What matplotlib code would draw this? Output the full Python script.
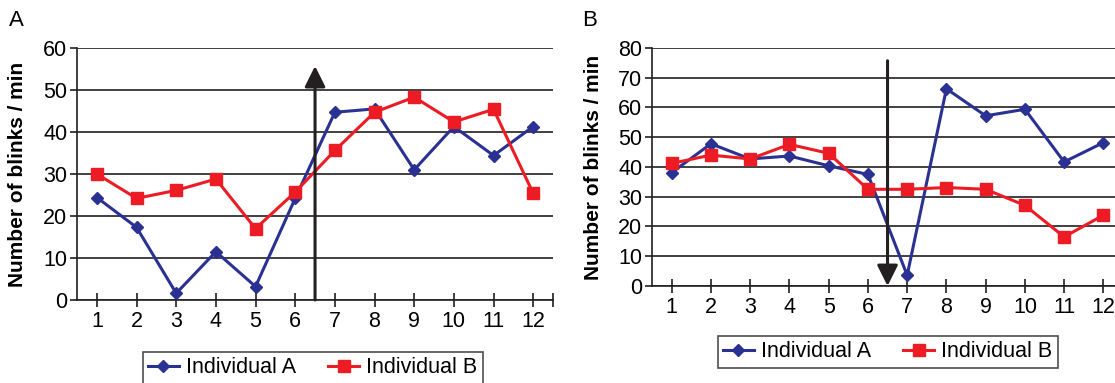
import matplotlib
matplotlib.use("Agg")
import matplotlib.pyplot as plt

plt.rcParams['font.family'] = ['Liberation Sans', 'DejaVu Sans']

# datos
sesiones = list(range(1, 13))
a_ind_a = [24.4, 17.3, 1.6, 11.5, 3.2, 24.2, 44.7, 45.5, 31.0, 41.3, 34.4, 41.3]
a_ind_b = [30.0, 24.2, 26.1, 28.8, 17.0, 25.7, 35.6, 44.7, 48.3, 42.4, 45.4, 25.4]
b_ind_a = [38.1, 47.8, 42.7, 43.7, 40.4, 37.5, 3.6, 66.3, 57.2, 59.4, 41.7, 48.2]
b_ind_b = [41.2, 44.0, 42.7, 47.6, 44.6, 32.5, 32.5, 33.1, 32.5, 27.1, 16.5, 23.8]
flecha_a = (6.5, 0, 55.7)   # x, inicio, fin
flecha_b = (6.5, 75.7, 0)

azul = '#2b3192'
rojo = '#ed1c24'
negro = '#231f20'

fig = plt.figure(figsize=(11.15, 3.83), dpi=100)
axA = fig.add_axes([0.0691, 0.2167, 0.4269, 0.658])
axB = fig.add_axes([0.5848, 0.2533, 0.4224, 0.6214])


def panel(ax, ind_a, ind_b, ymax, flecha, letra, lx, leg_pos):
    ax.set_xlim(0.5, 12.5)
    ax.set_ylim(0, ymax)
    ax.set_yticks(range(0, ymax + 1, 10))
    ax.set_xticks(sesiones)
    ax.set_xticks([12.5], minor=True)
    ax.grid(axis='y', color=negro, lw=1.2)
    ax.set_axisbelow(True)
    for s in ['top', 'right']:
        ax.spines[s].set_visible(False)
    for s in ['left', 'bottom']:
        ax.spines[s].set_color(negro)
        ax.spines[s].set_linewidth(1.2)
    ax.tick_params(axis='x', which='both', direction='inout', length=10, width=1.2,
                   color=negro, labelsize=15.5, pad=3)
    ax.tick_params(axis='y', direction='out', length=5, width=1.2, color=negro,
                   labelsize=15.5, pad=2)
    la, = ax.plot(sesiones, ind_a, color=azul, lw=2.2, marker='D', ms=6.5,
                  label='Individual A', zorder=3)
    lb, = ax.plot(sesiones, ind_b, color=rojo, lw=2.2, marker='s', ms=9,
                  label='Individual B', zorder=3)
    x, y0, y1 = flecha
    ax.annotate('', xy=(x, y1), xytext=(x, y0),
                arrowprops=dict(arrowstyle='-|>,head_width=0.35,head_length=0.7',
                                lw=2.2, color=negro, shrinkA=0, shrinkB=0,
                                mutation_scale=18), zorder=4)
    ax.set_ylabel('Number of blinks / min', fontsize=15, fontweight='bold')
    ax.yaxis.set_label_coords(-0.105, 0.5)
    fig.text(lx, 1 - 21 / 383, letra, fontsize=16, ha='center', va='center')
    leg = fig.legend(handles=[la, lb], loc='upper left', bbox_to_anchor=leg_pos,
                     ncol=2, fontsize=15.5, frameon=True, fancybox=False,
                     edgecolor=negro, handlelength=1.4, columnspacing=1.5,
                     borderpad=0.25, handletextpad=0.35, borderaxespad=0)
    leg.get_frame().set_linewidth(1.2)


panel(axA, a_ind_a, a_ind_b, 60, flecha_a, 'A', 16 / 1115, (143 / 1115, 1 - 352 / 383))
panel(axB, b_ind_a, b_ind_b, 80, flecha_b, 'B', 590 / 1115, (718 / 1115, 1 - 336 / 383))

fig.savefig('out.png', dpi=100)
